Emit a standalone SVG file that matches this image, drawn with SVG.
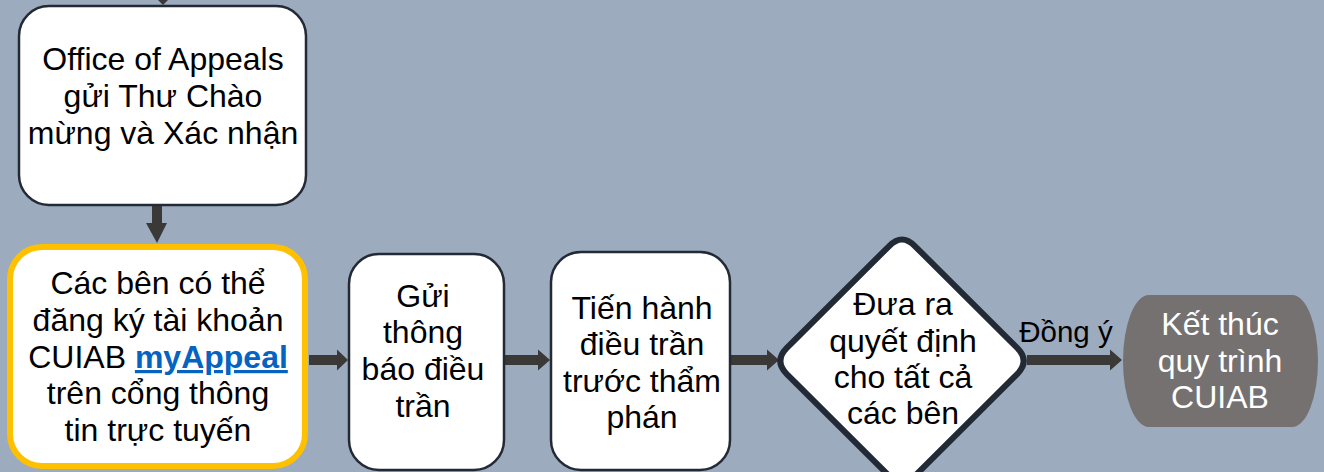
<svg xmlns="http://www.w3.org/2000/svg" width="1324" height="472" viewBox="0 0 1324 472">
<style>
.box{fill:#ffffff;stroke:#222a35;stroke-width:2.5}
.t{font-family:"Liberation Sans",Arial,sans-serif;font-size:32px;fill:#000000;text-anchor:middle}
.w{fill:#ffffff}
.shaft{fill:#3b3838}
.link{fill:#0563c1;font-weight:bold;text-decoration:underline}
</style>
<rect x="0" y="0" width="1324" height="472" fill="#9dabbf"/>
<g id="connectors">
  <polygon class="shaft" points="155,-3 171,-3 163,5"/>
  <rect class="shaft" x="152" y="205" width="10" height="19"/>
  <polygon class="shaft" points="146,223 167,223 157,243"/>
  <rect class="shaft" x="309" y="355" width="29" height="10"/>
  <polygon class="shaft" points="337,349.5 348,360 337,370.5"/>
  <rect class="shaft" x="505" y="355" width="34" height="10"/>
  <polygon class="shaft" points="538,349.5 550,360 538,370.5"/>
  <rect class="shaft" x="731" y="355" width="38" height="10"/>
  <polygon class="shaft" points="767,349.5 779,360 767,370.5"/>
  <rect class="shaft" x="1027" y="355" width="84" height="10"/>
  <polygon class="shaft" points="1110,349.5 1122,360 1110,370.5"/>
  <text class="t" x="1066" y="342" style="font-size:29.5px">Đồng ý</text>
</g>
<g id="node-office">
  <rect class="box" x="19" y="6" width="287" height="199" rx="30" ry="30"/>
  <text class="t" x="163" y="70">Office of Appeals</text>
  <text class="t" x="163" y="107">gửi Thư Chào</text>
  <text class="t" x="163" y="144">mừng và Xác nhận</text>
</g>
<g id="node-register">
  <rect x="10" y="247" width="295" height="219" rx="32" ry="32" fill="#ffffff" stroke="#ffc000" stroke-width="6"/>
  <text class="t" x="158" y="294">Các bên có thể</text>
  <text class="t" x="158" y="331">đăng ký tài khoản</text>
  <text class="t" x="158" y="368">CUIAB <tspan class="link">myAppeal</tspan></text>
  <text class="t" x="158" y="404">trên cổng thông</text>
  <text class="t" x="158" y="441">tin trực tuyến</text>
</g>
<g id="node-notice">
  <rect class="box" x="349" y="254" width="155" height="216" rx="30" ry="30"/>
  <text class="t" x="423" y="307">Gửi</text>
  <text class="t" x="423" y="343">thông</text>
  <text class="t" x="423" y="380">báo điều</text>
  <text class="t" x="423" y="417">trần</text>
</g>
<g id="node-hearing">
  <rect class="box" x="551" y="252" width="179" height="218" rx="30" ry="30"/>
  <text class="t" x="642" y="319">Tiến hành</text>
  <text class="t" x="642" y="355">điều trần</text>
  <text class="t" x="642" y="392">trước thẩm</text>
  <text class="t" x="642" y="428">phán</text>
</g>
<g id="node-decision">
  <path d="M889.4,245.8 Q902,233 914.6,245.8 L1017.4,348.2 Q1030,361 1017.4,373.8 L914.6,476.2 Q902,489 889.4,476.2 L786.6,373.8 Q774,361 786.6,348.2 Z" fill="#ffffff" stroke="#222a35" stroke-width="6" stroke-linejoin="round"/>
  <text class="t" x="903" y="315">Đưa ra</text>
  <text class="t" x="903" y="352">quyết định</text>
  <text class="t" x="903" y="388">cho tất cả</text>
  <text class="t" x="903" y="424">các bên</text>
</g>
<g id="node-end">
  <rect x="1123" y="295" width="195" height="132" rx="26" ry="66" fill="#767171"/>
  <text class="t w" x="1220" y="335">Kết thúc</text>
  <text class="t w" x="1220" y="372">quy trình</text>
  <text class="t w" x="1220" y="408">CUIAB</text>
</g>
</svg>
